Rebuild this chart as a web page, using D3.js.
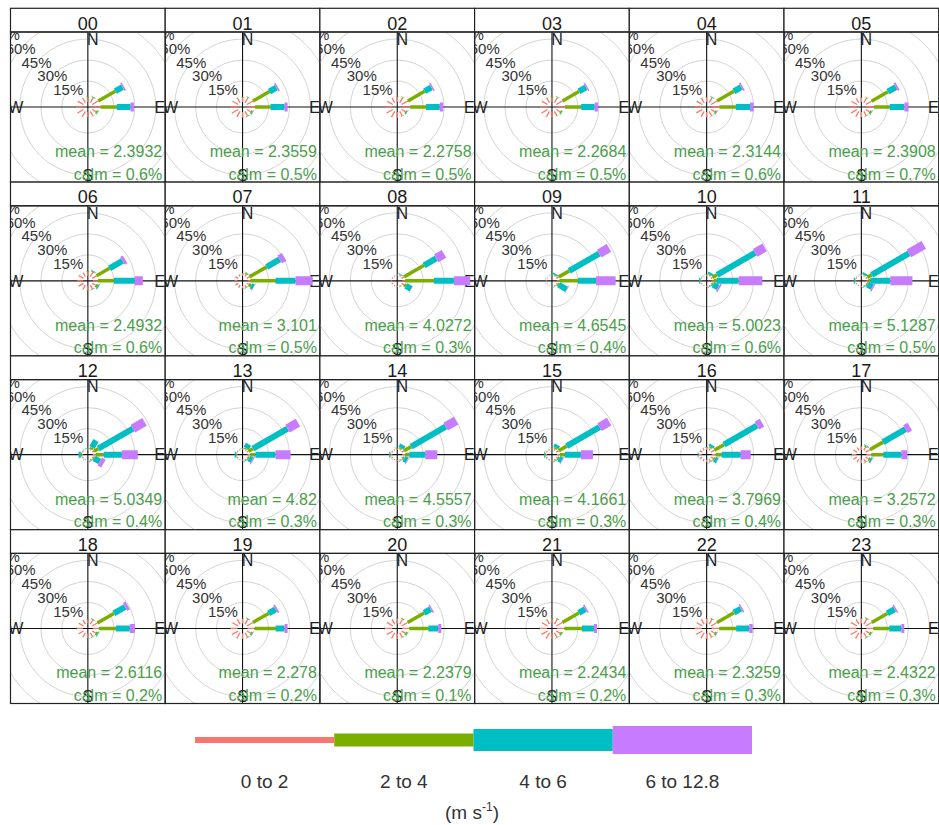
<!DOCTYPE html>
<html>
<head>
<meta charset="utf-8">
<script src="https://cdn.jsdelivr.net/npm/d3@7"></script>
<style>
  body { margin: 0; background: #fff; }
  text { font-family: "Liberation Sans", Arial, sans-serif; }
</style>
</head>
<body>
<svg id="chart" width="939" height="825"></svg>
<script>
// data
var hours = ["00","01","02","03","04","05","06","07","08","09","10","11",
             "12","13","14","15","16","17","18","19","20","21","22","23"];
var directions = [0, 30, 60, 90, 120, 150, 180, 210, 240, 270, 300, 330];
var speedBins = ["0 to 2", "2 to 4", "4 to 6", "6 to 12.8"];
var gridPct = [15, 30, 45, 60, 75];
var meanSpeed = [2.3932, 2.3559, 2.2758, 2.2684, 2.3144, 2.3908,
                 2.4932, 3.101, 4.0272, 4.6545, 5.0023, 5.1287,
                 5.0349, 4.82, 4.5557, 4.1661, 3.7969, 3.2572,
                 2.6116, 2.278, 2.2379, 2.2434, 2.3259, 2.4322];
var calmPct = [0.6, 0.5, 0.5, 0.5, 0.6, 0.7, 0.6, 0.5, 0.3, 0.4, 0.6, 0.5,
               0.4, 0.3, 0.3, 0.3, 0.4, 0.3, 0.2, 0.2, 0.1, 0.2, 0.3, 0.3];

// frequency (%) per hour (rows) and direction (cols, 0..330 by 30)
var freq0to2 = [
  [3.5, 4.0, 5.0, 5.5, 3.0, 3.4, 3.8, 4.4, 4.9, 5.1, 4.6, 3.9],
  [3.4, 4.1, 5.0, 5.4, 3.1, 3.5, 3.9, 4.5, 5.0, 5.2, 4.7, 3.8],
  [3.6, 4.2, 5.2, 5.6, 3.0, 3.6, 4.0, 4.6, 5.0, 5.1, 4.6, 3.9],
  [3.5, 4.1, 5.2, 5.8, 3.1, 3.5, 3.9, 4.4, 4.9, 5.0, 4.5, 3.8],
  [3.4, 4.0, 5.0, 5.7, 3.0, 3.4, 3.7, 4.3, 4.8, 5.0, 4.5, 3.8],
  [3.3, 3.9, 4.8, 5.5, 3.0, 3.3, 3.6, 4.2, 4.7, 4.9, 4.4, 3.7],
  [3.0, 3.4, 3.6, 3.6, 2.8, 3.0, 3.2, 3.6, 4.0, 4.2, 3.8, 3.2],
  [1.6, 1.8, 2.1, 2.1, 1.6, 1.7, 1.8, 2.0, 2.2, 2.3, 2.1, 1.7],
  [0.9, 1.0, 2.1, 2.1, 2.1, 1.0, 0.8, 0.8, 0.9, 1.0, 0.9, 0.8],
  [0.5, 0.5, 2.1, 1.9, 0.8, 0.6, 0.4, 0.4, 0.5, 0.6, 0.5, 0.4],
  [0.7, 0.7, 1.4, 1.4, 0.7, 0.7, 0.6, 0.6, 0.7, 0.8, 0.7, 0.6],
  [0.7, 0.7, 1.4, 1.4, 0.6, 0.7, 0.6, 0.6, 0.7, 0.8, 0.7, 0.6],
  [0.7, 0.8, 1.4, 2.1, 0.7, 0.7, 0.6, 0.6, 0.7, 0.7, 0.7, 0.6],
  [0.8, 0.7, 1.4, 2.1, 0.7, 0.8, 0.7, 0.7, 0.8, 0.6, 0.8, 0.7],
  [0.9, 0.9, 2.1, 2.1, 0.9, 0.9, 0.8, 0.8, 0.9, 0.8, 0.9, 0.8],
  [1.0, 1.0, 2.1, 2.1, 1.0, 1.0, 0.9, 0.9, 1.0, 0.9, 1.0, 0.9],
  [1.6, 1.8, 2.9, 2.9, 1.8, 1.8, 1.7, 1.8, 2.0, 2.0, 1.8, 1.6],
  [2.2, 2.4, 3.6, 3.6, 2.3, 2.4, 2.5, 2.7, 3.0, 3.1, 2.8, 2.3],
  [2.8, 3.2, 4.3, 4.3, 2.8, 3.0, 3.3, 3.7, 4.0, 4.2, 3.8, 3.1],
  [3.4, 3.9, 5.0, 5.0, 3.0, 3.5, 3.9, 4.5, 4.9, 5.1, 4.6, 3.8],
  [3.5, 4.0, 5.0, 5.0, 3.1, 3.6, 4.0, 4.6, 5.0, 5.2, 4.7, 3.9],
  [3.5, 4.0, 5.0, 5.4, 3.1, 3.5, 3.9, 4.5, 4.9, 5.1, 4.6, 3.8],
  [3.4, 4.0, 5.0, 5.4, 3.0, 3.4, 3.8, 4.4, 4.8, 5.0, 4.5, 3.8],
  [3.5, 4.1, 5.0, 5.0, 3.1, 3.5, 3.9, 4.5, 5.0, 5.2, 4.7, 3.9]
];
var freq2to4 = [
  [0.2, 0.6, 14.1, 11.6, 1.3, 0.4, 0.1, 0.1, 0.1, 0.2, 0.1, 0.1],
  [0.2, 0.6, 13.6, 11.0, 1.3, 0.4, 0.1, 0.1, 0.1, 0.2, 0.1, 0.1],
  [0.2, 0.5, 13.8, 11.4, 1.2, 0.3, 0.1, 0.1, 0.1, 0.1, 0.1, 0.1],
  [0.2, 0.5, 13.5, 11.5, 1.2, 0.3, 0.1, 0.1, 0.1, 0.1, 0.1, 0.1],
  [0.2, 0.6, 13.9, 11.6, 1.3, 0.3, 0.1, 0.1, 0.1, 0.1, 0.1, 0.1],
  [0.2, 0.6, 13.6, 11.2, 1.4, 0.4, 0.1, 0.1, 0.1, 0.1, 0.1, 0.1],
  [0.2, 0.8, 10.7, 11.4, 1.6, 0.4, 0.1, 0.1, 0.1, 0.1, 0.1, 0.1],
  [0.2, 0.8, 14.3, 17.9, 1.8, 0.3, 0.1, 0.1, 0.1, 0.1, 0.1, 0.1],
  [0.1, 0.4, 16.5, 20.5, 1.5, 0.2, 0, 0, 0.1, 0.1, 0, 0],
  [0.1, 0.5, 8.6, 13.1, 1.2, 0.2, 0, 0, 0, 0.1, 0, 0],
  [0.1, 0.7, 3.6, 2.2, 1.0, 0.2, 0, 0, 0, 0.2, 0.1, 0],
  [0.1, 0.6, 3.6, 1.5, 0.8, 0.2, 0, 0, 0, 0.2, 0.1, 0],
  [0.2, 1.5, 3.6, 5.8, 1.0, 0.3, 0, 0, 0.1, 0.7, 0.1, 0],
  [0.2, 1.0, 3.6, 3.6, 1.0, 0.3, 0.1, 0, 0.1, 0.6, 0.1, 0],
  [0.2, 1.0, 5.8, 2.9, 1.1, 0.3, 0.1, 0, 0.1, 0.6, 0.1, 0],
  [0.2, 1.1, 6.5, 3.6, 1.2, 0.3, 0.1, 0, 0.1, 0.5, 0.1, 0],
  [0.2, 1.0, 7.8, 4.2, 1.2, 0.3, 0.1, 0, 0.1, 0.4, 0.1, 0],
  [0.2, 0.9, 10.7, 8.5, 1.3, 0.3, 0.1, 0, 0.1, 0.3, 0.1, 0],
  [0.2, 0.7, 13.6, 12.1, 1.4, 0.3, 0.1, 0.1, 0.1, 0.2, 0.1, 0.1],
  [0.2, 0.6, 12.9, 15.0, 1.3, 0.4, 0.1, 0.1, 0.1, 0.2, 0.1, 0.1],
  [0.2, 0.6, 13.6, 13.6, 1.3, 0.4, 0.1, 0.1, 0.1, 0.2, 0.1, 0.1],
  [0.2, 0.6, 13.6, 12.5, 1.3, 0.4, 0.1, 0.1, 0.1, 0.2, 0.1, 0.1],
  [0.2, 0.6, 13.9, 12.1, 1.3, 0.4, 0.1, 0.1, 0.1, 0.2, 0.1, 0.1],
  [0.2, 0.6, 12.9, 11.4, 1.3, 0.4, 0.1, 0.1, 0.1, 0.2, 0.1, 0.1]
];
var freq4to6 = [
  [0, 0.1, 5.9, 9.8, 0.3, 0.1, 0, 0, 0, 0, 0, 0],
  [0, 0.1, 5.7, 10.0, 0.3, 0.1, 0, 0, 0, 0, 0, 0],
  [0, 0.1, 5.6, 9.8, 0.3, 0, 0, 0, 0, 0, 0, 0],
  [0, 0.1, 5.8, 9.6, 0.3, 0, 0, 0, 0, 0, 0, 0],
  [0, 0.1, 6.0, 10.1, 0.3, 0.1, 0, 0, 0, 0, 0, 0],
  [0, 0.1, 6.5, 10.5, 0.4, 0.1, 0, 0, 0, 0, 0, 0],
  [0, 0.3, 10.7, 15.0, 0.8, 0.1, 0, 0, 0, 0, 0, 0],
  [0, 0.4, 10.7, 14.3, 2.0, 0.1, 0, 0, 0, 0, 0, 0],
  [0, 0.4, 10.0, 14.3, 4.3, 0.1, 0, 0, 0, 0, 0, 0],
  [0.1, 1.0, 24.7, 12.9, 6.5, 0.2, 0, 0, 0, 0.2, 0, 0],
  [0.2, 1.5, 31.4, 15.7, 4.2, 0.3, 0, 0, 0.1, 0.8, 0.1, 0],
  [0.2, 1.2, 30.7, 14.2, 4.0, 0.3, 0, 0, 0.1, 0.8, 0.1, 0],
  [0.3, 5.7, 28.6, 12.8, 4.5, 0.4, 0, 0, 0.2, 1.5, 0.2, 0],
  [0.2, 3.3, 28.6, 14.3, 2.5, 0.3, 0, 0, 0.2, 0.8, 0.1, 0],
  [0.2, 2.5, 28.5, 11.4, 2.5, 0.3, 0, 0, 0.2, 0.7, 0.1, 0],
  [0.2, 2.2, 27.1, 11.4, 2.4, 0.3, 0, 0, 0.1, 0.6, 0.1, 0],
  [0.1, 1.5, 27.2, 13.6, 2.0, 0.2, 0, 0, 0.1, 0.4, 0.1, 0],
  [0, 0.6, 18.6, 12.9, 1.2, 0.1, 0, 0, 0, 0.1, 0, 0],
  [0, 0.2, 9.2, 10.0, 0.6, 0.1, 0, 0, 0, 0, 0, 0],
  [0, 0.1, 5.7, 6.4, 0.3, 0.1, 0, 0, 0, 0, 0, 0],
  [0, 0.1, 5.3, 7.1, 0.3, 0.1, 0, 0, 0, 0, 0, 0],
  [0, 0.1, 5.3, 8.5, 0.3, 0.1, 0, 0, 0, 0, 0, 0],
  [0, 0.1, 5.7, 9.3, 0.3, 0.1, 0, 0, 0, 0, 0, 0],
  [0, 0.1, 6.0, 8.6, 0.3, 0.1, 0, 0, 0, 0, 0, 0]
];
var freq6to12 = [
  [0, 0, 1.1, 2.4, 0, 0, 0, 0, 0, 0, 0, 0],
  [0, 0, 1.1, 2.2, 0, 0, 0, 0, 0, 0, 0, 0],
  [0, 0, 1.0, 2.5, 0, 0, 0, 0, 0, 0, 0, 0],
  [0, 0, 1.0, 2.4, 0, 0, 0, 0, 0, 0, 0, 0],
  [0, 0, 1.2, 2.6, 0, 0, 0, 0, 0, 0, 0, 0],
  [0, 0, 1.4, 2.8, 0, 0, 0, 0, 0, 0, 0, 0],
  [0, 0, 2.1, 5.7, 0.1, 0, 0, 0, 0, 0, 0, 0],
  [0, 0, 3.6, 12.1, 0.3, 0, 0, 0, 0, 0, 0, 0],
  [0, 0, 6.4, 11.7, 0.2, 0, 0, 0, 0, 0, 0, 0],
  [0, 0, 8.0, 14.0, 0.5, 0, 0, 0, 0, 0, 0, 0],
  [0, 0, 7.9, 16.9, 1.2, 0.1, 0, 0, 0, 0, 0, 0],
  [0, 0, 12.2, 15.8, 1.0, 0.1, 0, 0, 0, 0.1, 0, 0],
  [0, 0.2, 9.6, 11.4, 3.1, 0.2, 0, 0, 0, 0.2, 0, 0],
  [0, 0.1, 8.5, 10.7, 0.8, 0.1, 0, 0, 0, 0.1, 0, 0],
  [0, 0.1, 8.6, 8.6, 0.6, 0.1, 0, 0, 0, 0.1, 0, 0],
  [0, 0.1, 7.9, 8.6, 0.5, 0.1, 0, 0, 0, 0.1, 0, 0],
  [0, 0.1, 4.2, 7.2, 0.4, 0.1, 0, 0, 0, 0, 0, 0],
  [0, 0, 3.5, 4.3, 0.2, 0, 0, 0, 0, 0, 0, 0],
  [0, 0, 2.2, 3.6, 0.1, 0, 0, 0, 0, 0, 0, 0],
  [0, 0, 1.4, 2.2, 0, 0, 0, 0, 0, 0, 0, 0],
  [0, 0, 1.1, 2.2, 0, 0, 0, 0, 0, 0, 0, 0],
  [0, 0, 1.1, 2.2, 0, 0, 0, 0, 0, 0, 0, 0],
  [0, 0, 1.1, 2.5, 0, 0, 0, 0, 0, 0, 0, 0],
  [0, 0, 1.1, 2.1, 0, 0, 0, 0, 0, 0, 0, 0]
];

var bins = [freq0to2, freq2to4, freq4to6, freq6to12];
var binColors = ["#F8766D", "#7CAE00", "#00BFC4", "#C77CFF"];
var paddleWidth = [1.3, 3.5, 6, 9];
var legendHeight = [6, 13, 22, 28];

var svg = d3.select("#chart");

// grid of panels
var left = 10.5, colW = 154.7, top0 = 8.3, rowH = 173.8, stripH = 23.7;
var panelH = rowH - stripH;
var nCol = 6;

// radial scale: % frequency -> px (small hole in the middle)
var r = d3.scaleLinear().domain([0, 75]).range([5, 110]);
var rad = d => d * Math.PI / 180;
var labelAngle = rad(-49);

hours.forEach(function(h, i) {
  var col = i % nCol, row = Math.floor(i / nCol);
  var px = left + col * colW, py = top0 + row * rowH;
  var ptop = py + stripH;
  var cx = px + colW / 2, cy = ptop + panelH / 2;

  // strip
  svg.append("rect")
    .attr("x", px).attr("y", py).attr("width", colW).attr("height", stripH)
    .attr("fill", "#fff");
  svg.append("text")
    .attr("x", cx).attr("y", py + stripH - 2.5)
    .attr("text-anchor", "middle")
    .attr("font-size", 18)
    .attr("fill", "#1a1a1a")
    .text(h);

  svg.append("clipPath").attr("id", "clip" + i)
    .append("rect")
    .attr("x", px).attr("y", ptop).attr("width", colW).attr("height", panelH);

  var g = svg.append("g").attr("clip-path", "url(#clip" + i + ")");

  g.selectAll("circle.grid")
    .data(gridPct)
    .join("circle")
    .attr("class", "grid")
    .attr("cx", cx).attr("cy", cy)
    .attr("r", d => r(d))
    .attr("fill", "none")
    .attr("stroke", "#d4d4d4")
    .attr("stroke-width", 1);

  // axis cross
  g.append("line")
    .attr("x1", cx).attr("x2", cx).attr("y1", ptop).attr("y2", ptop + panelH)
    .attr("stroke", "#111").attr("stroke-width", 1.1);
  g.append("line")
    .attr("x1", px).attr("x2", px + colW).attr("y1", cy).attr("y2", cy)
    .attr("stroke", "#111").attr("stroke-width", 1.1);

  // % labels
  g.selectAll("text.pct")
    .data(gridPct)
    .join("text")
    .attr("class", "pct")
    .attr("x", d => cx + r(d) * Math.sin(labelAngle))
    .attr("y", d => cy - r(d) * Math.cos(labelAngle))
    .attr("dy", "0.35em")
    .attr("text-anchor", "middle")
    .attr("font-size", 15)
    .attr("fill", "#333")
    .text(d => d + "%");

  // compass letters
  var compass = [
    {t: "N", x: cx + 5, y: cy - 68},
    {t: "E", x: cx + 72, y: cy},
    {t: "S", x: cx, y: cy + 68},
    {t: "W", x: cx - 72, y: cy}
  ];
  g.selectAll("text.compass")
    .data(compass)
    .join("text")
    .attr("class", "compass")
    .attr("x", d => d.x).attr("y", d => d.y)
    .attr("dy", "0.36em")
    .attr("text-anchor", "middle")
    .attr("font-size", 16)
    .attr("fill", "#222")
    .text(d => d.t);

  // paddles, stacked by speed bin
  var segs = [];
  directions.forEach(function(dir, j) {
    var cum = 0;
    bins.forEach(function(b, k) {
      var v = b[i][j];
      if (v > 0) segs.push({dir: dir, from: cum, to: cum + v, k: k});
      cum += v;
    });
  });
  g.selectAll("line.paddle")
    .data(segs)
    .join("line")
    .attr("class", "paddle")
    .attr("x1", d => cx + r(d.from) * Math.sin(rad(d.dir)))
    .attr("y1", d => cy - r(d.from) * Math.cos(rad(d.dir)))
    .attr("x2", d => cx + r(d.to) * Math.sin(rad(d.dir)))
    .attr("y2", d => cy - r(d.to) * Math.cos(rad(d.dir)))
    .attr("stroke", d => binColors[d.k])
    .attr("stroke-width", d => paddleWidth[d.k])
    .attr("stroke-linecap", "butt");

  // stats
  g.append("text")
    .attr("x", px + colW - 3).attr("y", cy + 50)
    .attr("text-anchor", "end")
    .attr("font-size", 16)
    .attr("fill", "#4a9e4a")
    .text("mean = " + meanSpeed[i]);
  g.append("text")
    .attr("x", px + colW - 3).attr("y", cy + 72.5)
    .attr("text-anchor", "end")
    .attr("font-size", 16)
    .attr("fill", "#4a9e4a")
    .text("calm = " + calmPct[i] + "%");

  // borders
  svg.append("rect")
    .attr("x", px).attr("y", py).attr("width", colW).attr("height", stripH)
    .attr("fill", "none").attr("stroke", "#222").attr("stroke-width", 1.2);
  svg.append("rect")
    .attr("x", px).attr("y", ptop).attr("width", colW).attr("height", panelH)
    .attr("fill", "none").attr("stroke", "#222").attr("stroke-width", 1.2);
});

// legend
var legX = d3.scaleBand().domain(speedBins).range([195, 752]);
var legY = 740;
svg.selectAll("rect.leg")
  .data(speedBins)
  .join("rect")
  .attr("class", "leg")
  .attr("x", d => legX(d))
  .attr("width", legX.bandwidth())
  .attr("y", (d, k) => legY - legendHeight[k] / 2)
  .attr("height", (d, k) => legendHeight[k])
  .attr("fill", (d, k) => binColors[k]);

svg.selectAll("text.leg")
  .data(speedBins)
  .join("text")
  .attr("class", "leg")
  .attr("x", d => legX(d) + legX.bandwidth() / 2)
  .attr("y", 788)
  .attr("text-anchor", "middle")
  .attr("font-size", 19)
  .attr("fill", "#333")
  .text(d => d);

var unit = svg.append("text")
  .attr("x", 472).attr("y", 819)
  .attr("text-anchor", "middle")
  .attr("font-size", 19)
  .attr("fill", "#333");
unit.append("tspan").text("(m s");
unit.append("tspan").attr("font-size", 12).attr("dy", -8).text("-1");
unit.append("tspan").attr("dy", 8).text(")");
</script>
</body>
</html>
